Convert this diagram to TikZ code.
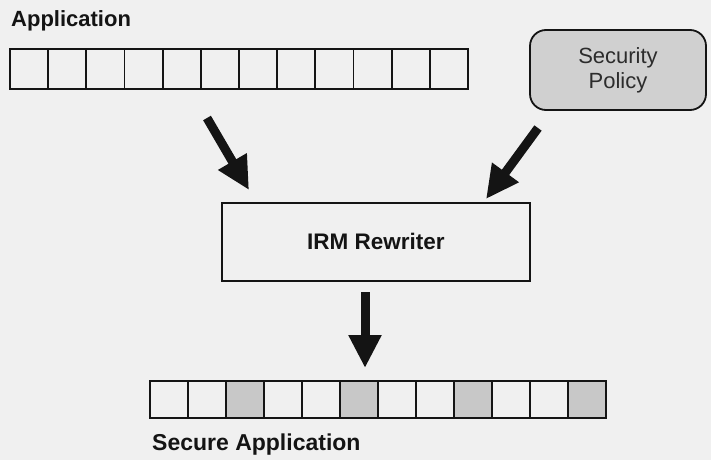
\documentclass[tikz,border=0pt]{standalone}
\usepackage{fontspec}
\setmainfont{Liberation Sans}
\usetikzlibrary{arrows.meta,calc}
\definecolor{bg}{RGB}{240,240,240}
\definecolor{shade}{RGB}{200,200,200}
\definecolor{policyfill}{RGB}{208,208,208}
\definecolor{ink}{RGB}{20,20,20}
\tikzset{
  cell/.style={draw=ink, line width=1.8pt, minimum width=38.1pt, minimum height=40pt, inner sep=0pt, outer sep=0pt, fill=bg},
  scell/.style={cell, fill=shade},
  lbl/.style={font=\bfseries\fontsize{22}{26}\selectfont, text=ink, inner sep=0pt},
  bigarrow/.style={draw=ink, line width=9pt, -{Triangle[length=33pt,width=31pt]}},
}
\begin{document}
\begin{tikzpicture}[x=1pt,y=-1pt]
\useasboundingbox[fill=bg] (0,0) rectangle (711,460);
% labels
\node[lbl, anchor=base west] (applbl) at (11,27) {Application};
\node[lbl, anchor=base west, font=\bfseries\fontsize{23}{27}\selectfont] (seclbl) at (152,450) {Secure Application};
% top array
\foreach \i in {1,...,12}{
  \node[cell] (t\i) at ({10+38.17*(\i-0.5)},69) {};
}
% bottom array
\foreach \i in {1,...,12}{
  \pgfmathtruncatemacro{\m}{mod(\i,3)}
  \ifnum\m=0
    \node[scell, minimum height=37pt] (b\i) at ({150+38*(\i-0.5)},399.5) {};
  \else
    \node[cell, minimum height=37pt] (b\i) at ({150+38*(\i-0.5)},399.5) {};
  \fi
}
% policy
\node[draw=ink, line width=1.8pt, fill=policyfill, rounded corners=16pt, minimum width=176pt, minimum height=80pt, inner sep=0pt,
      align=center, font=\fontsize{22}{25}\selectfont, text=ink!90] (policy) at (618,70) {Security\\Policy};
% IRM rewriter
\node[draw=ink, line width=1.8pt, fill=bg, minimum width=308pt, minimum height=78pt, inner sep=0pt] (irm) at (376,242) {};
\node[lbl, anchor=base, font=\bfseries\fontsize{22.5}{26}\selectfont] (irmtxt) at (376,249) {IRM Rewriter};
% arrows
\coordinate (a1s) at (207,118);
\coordinate (a1e) at (249,190);
\coordinate (a2s) at (538,128);
\coordinate (a2e) at (486,199);
\coordinate (a3s) at (365,292);
\coordinate (a3e) at (365,368);
\draw[bigarrow] (a1s) -- (a1e);
\draw[bigarrow] (a2s) -- (a2e);
\draw[bigarrow] (a3s) -- (a3e);
\end{tikzpicture}
\end{document}
